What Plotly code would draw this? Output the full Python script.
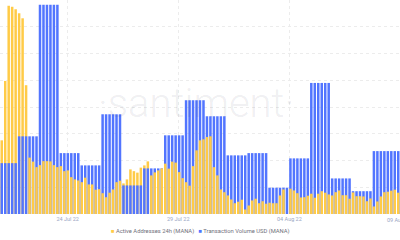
import pandas as pd
import plotly.graph_objects as go

# ---------------- data ----------------
bar_start = "2022-07-21 04:00"          # first 4h bar
bar_freq = "4h"
active_addresses = [
    294, 531, 831, 827, 817, 801, 781, 514, 225, 209,
    187, 195, 211, 211, 210, 195, 187, 191, 171, 174,
    147, 138, 134, 127, 145, 118, 118, 97, 99, 83,
    67, 85, 98, 127, 133, 122, 138, 178, 171, 165,
    185, 194, 210, 154, 166, 174, 182, 201, 181, 209,
    205, 167, 143, 127, 113, 191, 254, 294, 298, 307,
    310, 187, 154, 98, 87, 74, 58, 43, 49, 57,
    18, 34, 54, 61, 43, 51, 41, 45, 43, 43,
    74, 98, 0, 101, 94, 83, 66, 67, 73, 81,
    65, 81, 91, 85, 78, 74, 87, 94, 75, 75,
    61, 86, 71, 71, 70, 51, 62, 30, 50, 70,
    87, 89, 93, 97, 85,
]
volume_days = pd.date_range("2022-07-21", periods=20, freq="D")
volume_usd = [
    20.3e6, 31.0e6, 83.5e6, 24.3e6, 19.4e6, 39.8e6, 11.4e6, 18.2e6, 31.4e6, 45.4e6,
    39.0e6, 23.4e6, 24.3e6, 10.5e6, 22.2e6, 52.3e6, 14.2e6, 9.1e6, 25.1e6, 25.1e6,
]
tick_dates = ["2022-07-24 07:50", "2022-07-29 15:00", "2022-08-03 22:50", "2022-08-09 05:50"]
tick_labels = ["24 Jul 22", "29 Jul 22", "04 Aug 22", "09 Aug 22"]
series_names = ["Active Addresses 24h (MANA)", "Transaction Volume USD (MANA)"]
colors = ["#FFCB47", "#5275FF"]

aa_range = [0, 854]
vol_range = [0, 85.4e6]

# ---------------- derived ----------------
ts = pd.date_range(bar_start, periods=len(active_addresses), freq=bar_freq)
vol_by_day = dict(zip(volume_days, volume_usd))
vol_bars = [vol_by_day[t.normalize()] for t in ts]

# shorter bar in front: split yellow into "taller" (behind) and "shorter" (in front)
aa_tall, aa_short = [], []
for a, v in zip(active_addresses, vol_bars):
    if a / aa_range[1] > v / vol_range[1]:
        aa_tall.append(a); aa_short.append(None)
    else:
        aa_tall.append(None); aa_short.append(a)

fig = go.Figure()
fig.add_trace(go.Bar(x=ts, y=aa_tall, marker_color=colors[0], marker_line_width=0,
                     name=series_names[0], yaxis="y", showlegend=False))
fig.add_trace(go.Bar(x=ts, y=vol_bars, marker_color=colors[1], marker_line_width=0,
                     name=series_names[1], yaxis="y2", showlegend=False))
fig.add_trace(go.Bar(x=ts, y=aa_short, marker_color=colors[0], marker_line_width=0,
                     name=series_names[0], yaxis="y3", showlegend=False))

x0 = ts[0] - pd.Timedelta(hours=2)
x1 = ts[-1] + pd.Timedelta(hours=2)

grid = "#ececec"
tick_font = dict(family="Roboto", size=5.5, color="#9aa6c4")
# last label sits on the right edge and is cut off by the page, as in the source
shown_labels = tick_labels[:-1] + [""]
fig.update_layout(
    width=400, height=240,
    margin=dict(l=0, r=0, t=0, b=26),
    paper_bgcolor="white", plot_bgcolor="white",
    barmode="overlay", bargap=0.28,
    xaxis=dict(range=[x0, x1], tickvals=tick_dates, ticktext=shown_labels,
               showgrid=True, gridcolor=grid, griddash="dot", gridwidth=1,
               ticks="", showline=False, zeroline=False,
               tickfont=tick_font),
    yaxis=dict(range=aa_range, tick0=0, dtick=aa_range[1] / 8,
               showgrid=True, gridcolor=grid, griddash="dot", gridwidth=1,
               showticklabels=False, zeroline=False, ticks=""),
    yaxis2=dict(range=vol_range, overlaying="y", showgrid=False,
                showticklabels=False, zeroline=False, ticks=""),
    yaxis3=dict(range=aa_range, overlaying="y", showgrid=False,
                showticklabels=False, zeroline=False, ticks=""),
)
fig.add_annotation(
    text=tick_labels[-1], xref="x", yref="paper", x=tick_dates[-1], y=0, yshift=-6,
    xanchor="center", yanchor="middle", showarrow=False, font=tick_font,
)

fig.add_annotation(
    text="·santiment·", xref="paper", yref="paper", x=0.49, y=0.515,
    showarrow=False,
    font=dict(family="Roboto", size=40, weight=300, color="rgba(40,40,70,0.085)"),
)

legend_text = (f'<span style="color:{colors[0]}">■</span> {series_names[0]}'
               f'&nbsp;&nbsp;&nbsp;<span style="color:{colors[1]}">■</span> {series_names[1]}')
fig.add_annotation(
    text=legend_text, xref="paper", yref="paper", x=0.5, y=0, yshift=-17,
    xanchor="center", yanchor="middle", showarrow=False,
    font=dict(family="Roboto", size=5.8, color="#70707a"),
)

fig.write_html("out.html")
